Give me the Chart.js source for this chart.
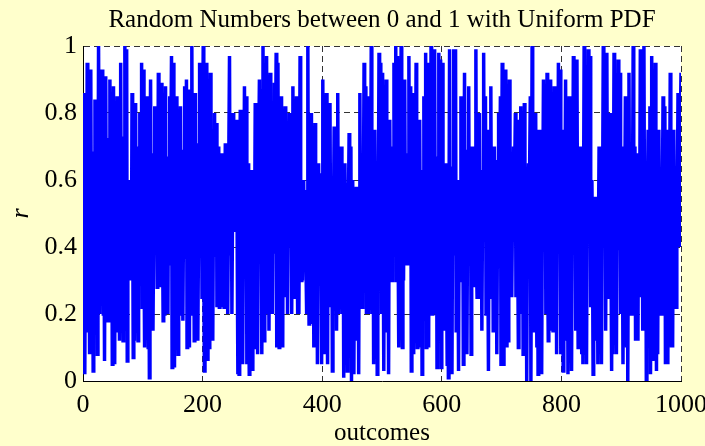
<!DOCTYPE html>
<html><head><meta charset="utf-8">
<script src="https://cdn.jsdelivr.net/npm/chart.js@4.4.1/dist/chart.umd.min.js"></script>
<style>html,body{margin:0;padding:0;background:#FFFFCC;}</style>
</head><body>
<canvas id="c" width="705" height="446"></canvas>
<script>
const chartTitle = 'Random Numbers between 0 and 1 with Uniform PDF';
const xLabel = 'outcomes';
const yLabel = 'r';
const xTicks = [0, 200, 400, 600, 800, 1000];
const yTicks = [0, 0.2, 0.4, 0.6, 0.8, 1];
const xTickLabels = ['0', '200', '400', '600', '800', '1000'];
const yTickLabels = ['0', '0.2', '0.4', '0.6', '0.8', '1'];

// r values, outcomes 1-200
const rA = [.86,.64,.02,.41,.57,.33,.95,.48,.15,.62,.08,.71,.93,.38,.54,.46,.03,.29,.68,.84,
.52,.36,.70,.08,.43,1.0,.59,.20,.74,.31,.45,.93,.66,.20,.51,.06,.58,.91,.37,.25,
.63,.18,.44,.72,.90,.39,.55,.62,.05,.47,.88,.27,.05,.61,.42,.53,.85,.34,.15,.67,
.12,.49,.95,.40,.73,.56,.12,.38,.69,1.0,.44,.71,.99,.06,.35,.60,.42,.30,.55,.48,
.33,.86,.58,.07,.64,.12,.47,.83,.26,.57,.70,.12,.45,.62,.80,.38,.66,.95,.22,.51,
.93,.41,.10,.73,.29,.54,.85,.36,.10,.62,.01,.59,.90,.43,.27,.68,.15,.40,.55,.82,
.46,.61,.79,.28,.52,.92,.37,.28,.64,.49,.56,.89,.43,.18,.70,.20,.51,.88,.34,.62,
.44,.20,.67,.58,.85,.35,.72,.97,.04,.48,.95,.30,.04,.61,.53,.46,.85,.39,.08,.66,
.20,.57,.82,.42,.31,.69,.18,.47,.60,.88,.37,.63,.90,.10,.54,.87,.45,.10,.72,.33,
.58,1.0,.41,.20,.65,.12,.48,.86,.35,.59,.71,.12,.39,.52,.95,.43,.67,.92,.25,.56];
// outcomes 201-400
const rB = [1.0,.36,.03,.62,.47,.55,.95,.28,.06,.69,.10,.44,.92,.58,.33,.63,.12,.49,.37,.80,
.41,.57,.77,.22,.52,.70,.34,.22,.61,.45,.48,.68,.39,.22,.59,.22,.53,.71,.43,.31,
.60,.20,.46,.72,.97,.38,.55,.70,.20,.49,.80,.62,.45,.71,.53,.47,.78,.35,.02,.64,
.02,.58,.81,.41,.26,.66,.05,.37,.54,.88,.42,.70,.85,.05,.51,.65,.29,.02,.57,.44,
.50,.63,.33,.03,.61,.10,.46,.83,.38,.27,.62,.08,.43,.71,.90,.36,.59,.87,.08,.48,
1.0,.40,.12,.67,.54,.45,.97,.31,.20,.63,.15,.56,.92,.47,.34,.69,.20,.52,.38,.89,
.41,.73,.98,.10,.55,.95,.32,.10,.60,.46,.53,.85,.37,.10,.68,.25,.61,.82,.44,.36,
.64,.20,.49,.57,.80,.40,.66,.77,.20,.52,.88,.35,.25,.70,.47,.58,.85,.42,.20,.63,
.20,.54,.97,.39,.30,.52,.30,.44,.60,.38,.47,.57,.33,.20,.56,1.0,.42,.17,.65,.51,
.59,.80,.36,.17,.70,.10,.48,.77,.43,.27,.57,.05,.39,.65,.46,.34,.61,.62,.05,.50];
// outcomes 401-600
const rC = [.90,.44,.08,.62,.53,.49,.86,.31,.05,.67,.22,.58,.83,.40,.35,.61,.03,.45,.52,.76,
.38,.63,.75,.15,.49,.86,.41,.20,.69,.56,.50,.70,.36,.20,.60,.01,.47,.65,.39,.28,
.59,.03,.43,.55,.74,.35,.62,.70,.00,.48,.60,.37,.02,.51,.44,.46,.58,.29,.12,.55,
.02,.52,.86,.41,.33,.66,.22,.48,.57,.95,.42,.71,.88,.20,.54,.85,.39,.20,.63,.47,
.55,1.0,.34,.20,.68,.05,.49,.75,.42,.31,.64,.02,.46,.58,.98,.37,.69,.95,.20,.52,
.92,.43,.03,.66,.55,.51,.90,.38,.15,.62,.02,.57,.78,.44,.30,.70,.30,.51,.60,.95,
.45,.73,1.0,.30,.58,.97,.40,.10,.67,.49,.54,1.0,.36,.10,.71,.30,.62,.90,.47,.41,
.68,.35,.53,.61,.97,.43,.70,.88,.03,.56,.86,.38,.08,.64,.50,.57,.95,.33,.10,.66,
.10,.52,.78,.41,.29,.63,.02,.47,.55,.85,.39,.68,.98,.10,.51,.95,.44,.10,.70,.58,
.53,1.0,.37,.20,.65,.20,.59,.99,.45,.34,.67,.04,.50,.61,.98,.41,.72,.96,.04,.55];
// outcomes 601-800
const rD = [.95,.48,.15,.63,.54,.52,.65,.31,.05,.58,.01,.46,.99,.40,.27,.64,.02,.53,.57,.99,
.38,.70,.99,.15,.49,.60,.42,.03,.52,.45,.55,.85,.39,.30,.66,.05,.51,.92,.43,.33,
.69,.08,.47,.58,.88,.40,.61,.70,.08,.50,.70,.45,.28,.62,.53,.56,.99,.35,.25,.67,
.25,.54,.80,.46,.38,.63,.15,.49,.59,.98,.44,.72,.85,.20,.55,.75,.37,.03,.60,.48,
.52,.88,.41,.25,.64,.15,.50,.70,.43,.32,.66,.08,.45,.57,.80,.39,.62,.85,.05,.51,
.95,.43,.05,.68,.56,.54,.93,.37,.10,.63,.12,.49,.90,.42,.30,.61,.25,.47,.55,.70,
.42,.64,.80,.25,.52,.78,.39,.10,.67,.46,.58,.82,.35,.20,.69,.08,.53,.83,.44,.28,
.59,.00,.41,.53,.65,.37,.66,.85,.00,.49,1.0,.42,.15,.64,.55,.51,.80,.36,.10,.62,
.02,.48,.75,.40,.33,.67,.02,.46,.58,.90,.43,.69,.87,.20,.54,.92,.38,.12,.63,.50,
.55,.90,.40,.15,.66,.15,.52,.88,.45,.31,.62,.08,.47,.59,.95,.40,.71,.93,.08,.53];
// outcomes 801-1000
const rE = [.75,.44,.03,.60,.51,.56,.90,.35,.12,.64,.02,.49,.85,.41,.30,.65,.03,.46,.58,.97,
.39,.70,.90,.15,.52,.96,.42,.10,.66,.55,.53,.70,.37,.08,.60,.05,.50,1.0,.43,.32,
.68,.05,.47,.57,.99,.41,.72,.97,.22,.54,.60,.40,.02,.53,.46,.49,.55,.33,.12,.47,
.05,.45,.70,.38,.29,.64,.05,.50,.59,1.0,.43,.69,.88,.15,.55,.98,.41,.25,.66,.52,
.57,.80,.36,.03,.63,.08,.51,.98,.44,.31,.67,.08,.48,.58,.96,.39,.71,.92,.20,.53,
.70,.43,.05,.61,.50,.55,.85,.38,.10,.64,.00,.50,.92,.42,.32,.66,.20,.49,.58,1.0,
.41,.63,.70,.12,.52,.68,.44,.12,.59,.47,.54,.99,.38,.25,.65,.15,.53,1.0,.45,.33,
.62,.00,.46,.56,.75,.40,.67,.82,.02,.51,.97,.43,.06,.64,.55,.52,.95,.36,.03,.66,
.08,.48,.75,.41,.30,.63,.20,.47,.58,.85,.42,.68,.82,.05,.53,.75,.41,.05,.60,.49,
.54,.92,.37,.10,.65,.10,.50,.75,.43,.34,.64,.22,.48,.57,.86,.47,.70,.40,.78,.92];

const rValues = [].concat(rA, rB, rC, rD, rE);
const points = rValues.map((v, i) => ({ x: i + 1, y: v }));

const serif = '"Liberation Serif", "Times New Roman", serif';

const bgPlugin = {
  id: 'bg',
  beforeDraw(chart) {
    const { ctx, chartArea: a } = chart;
    ctx.save();
    ctx.fillStyle = '#FFFFCC';
    ctx.fillRect(0, 0, chart.width, chart.height);
    ctx.fillStyle = '#FFFFFF';
    ctx.fillRect(a.left, a.top, a.right - a.left, a.bottom - a.top);
    ctx.restore();
  }
};

function labelFor(values, labels) {
  return v => { const i = values.findIndex(t => Math.abs(t - v) < 1e-9); return i >= 0 ? labels[i] : ''; };
}

new Chart(document.getElementById('c'), {
  type: 'line',
  data: {
    datasets: [{
      data: points,
      borderColor: '#0000FF',
      borderWidth: 3.5,
      pointRadius: 0,
      tension: 0,
      fill: false
    }]
  },
  options: {
    responsive: false,
    animation: false,
    layout: { padding: { top: 0, right: 24, bottom: 0, left: 0 } },
    plugins: {
      legend: { display: false },
      tooltip: { enabled: false },
      title: {
        display: true,
        text: chartTitle,
        fullSize: false,
        color: '#000',
        font: { family: serif, size: 25, weight: 'normal', lineHeight: 1.2 },
        padding: { top: 5, bottom: 11 }
      }
    },
    scales: {
      x: {
        type: 'linear',
        min: xTicks[0],
        max: xTicks[xTicks.length - 1],
        afterBuildTicks: s => { s.ticks = xTicks.map(v => ({ value: v })); },
        afterFit: s => { s.height = 65; s.paddingLeft = 0; s.paddingRight = 0; },
        ticks: { color: '#000', font: { family: serif, size: 26 }, padding: 9, maxRotation: 0, callback: labelFor(xTicks, xTickLabels) },
        grid: { color: '#333', lineWidth: 1, drawTicks: false },
        border: { display: true, color: '#000', width: 1, dash: [6, 4] },
        title: { display: true, text: xLabel, color: '#000', font: { family: serif, size: 25 }, padding: { top: 0, bottom: -2 } }
      },
      y: {
        min: yTicks[0],
        max: yTicks[yTicks.length - 1],
        afterBuildTicks: s => { s.ticks = yTicks.map(v => ({ value: v })); },
        afterFit: s => { s.width = 83; s.paddingTop = 0; s.paddingBottom = 0; },
        ticks: { color: '#000', font: { family: serif, size: 26 }, padding: 6, callback: labelFor(yTicks, yTickLabels) },
        grid: { color: '#333', lineWidth: 1, drawTicks: false },
        border: { display: true, color: '#000', width: 1, dash: [6, 4] },
        title: { display: true, text: yLabel, color: '#000', font: { family: serif, size: 26, style: 'italic' }, padding: { top: 6, bottom: 0 } }
      }
    }
  },
  plugins: [bgPlugin]
});
</script>
</body></html>
